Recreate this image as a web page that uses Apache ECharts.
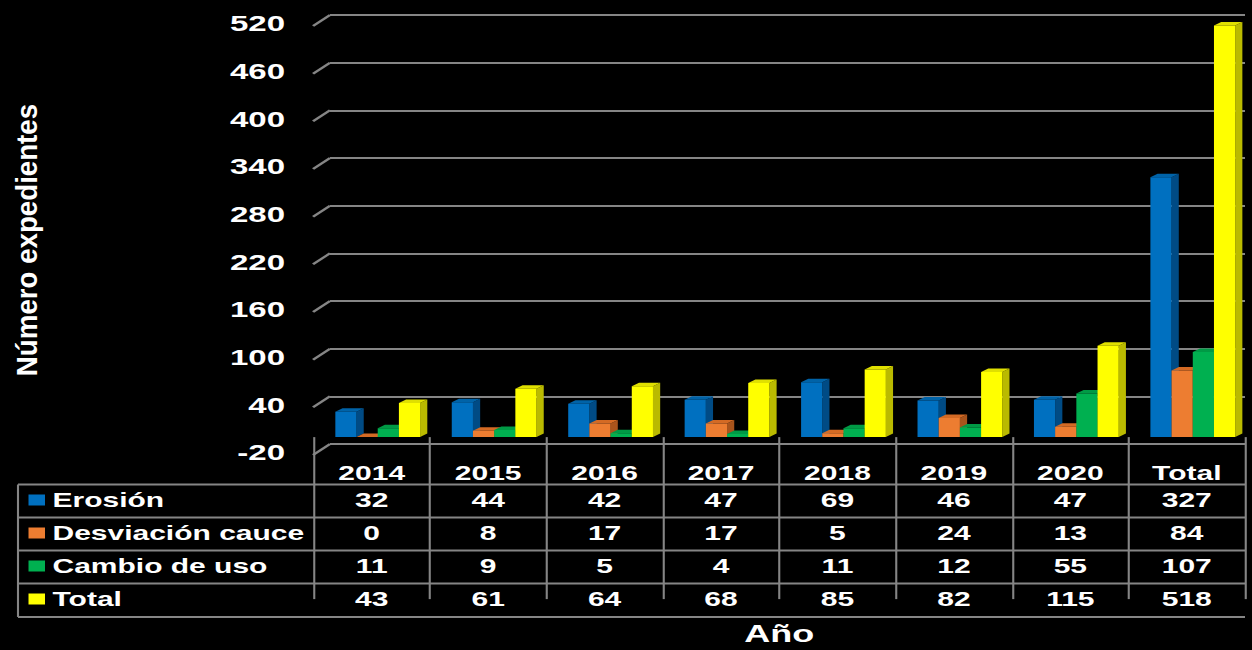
<!DOCTYPE html>
<html>
<head>
<meta charset="utf-8">
<script src="https://cdn.jsdelivr.net/npm/echarts@6/dist/echarts.min.js"></script>
<style>
  body { margin: 0; background: #000; overflow: hidden; }
  /* the reference is stretched sideways, so draw narrow and widen it */
  #chart { width: 835px; height: 650px; transform: scaleX(1.5); transform-origin: 0 0; }
</style>
</head>
<body>
<div id="chart"></div>
<script>
var years = ['2014', '2015', '2016', '2017', '2018', '2019', '2020', 'Total'];
var erosion = [32, 44, 42, 47, 69, 46, 47, 327];
var desviacion = [0, 8, 17, 17, 5, 24, 13, 84];
var cambio = [11, 9, 5, 4, 11, 12, 55, 107];
var total = [43, 61, 64, 68, 85, 82, 115, 518];
var seriesNames = ['Erosión', 'Desviación cauce', 'Cambio de uso', 'Total'];
var yTicks = [-20, 40, 100, 160, 220, 280, 340, 400, 460, 520];

var allValues = [erosion, desviacion, cambio, total];
var frontColors = ['#0070C0', '#ED7D31', '#00B050', '#FFFF00'];
var sideColors = ['#004B85', '#A9541C', '#007A36', '#BABA00'];
var topColors = ['#0063A8', '#D46A24', '#009A45', '#E0E000'];

var font = '"Liberation Sans", Arial, sans-serif';
var gridColor = '#858585';

var chart = echarts.init(document.getElementById('chart'), null, { renderer: 'svg' });

function renderBar(params, api) {
    var s = params.seriesIndex;
    var base = api.coord([api.value(0), 0]);
    var top = api.coord([api.value(0), api.value(1)]);
    var bw = api.size([1, 0])[0] * 0.182;
    var dx = 4.8, dy = 3.5;
    var x0 = base[0] - 2 * bw + s * bw + 4;
    var x1 = x0 + bw;
    return {
        type: 'group',
        children: [
            {
                type: 'polygon',
                shape: { points: [[x1, top[1]], [x1 + dx, top[1] - dy], [x1 + dx, base[1] - dy], [x1, base[1]]] },
                style: { fill: sideColors[s] }
            },
            {
                type: 'polygon',
                shape: { points: [[x0, top[1]], [x0 + dx, top[1] - dy], [x1 + dx, top[1] - dy], [x1, top[1]]] },
                style: { fill: topColors[s] }
            },
            {
                type: 'rect',
                shape: { x: x0, y: top[1], width: bw, height: base[1] - top[1] },
                style: { fill: frontColors[s] }
            }
        ]
    };
}

function renderSlant(params, api) {
    var p = api.coord([0, api.value(0)]);
    return {
        type: 'line',
        shape: { x1: p[0] - 11.3, y1: p[1] + 11, x2: p[0], y2: p[1] },
        style: { stroke: gridColor, lineWidth: 2 }
    };
}

var series = seriesNames.map(function (name, s) {
    return {
        name: name,
        type: 'custom',
        xAxisIndex: 0,
        yAxisIndex: 0,
        itemStyle: { color: frontColors[s] },
        renderItem: renderBar,
        encode: { x: 0, y: 1 },
        data: allValues[s].map(function (v, j) { return [j, v]; })
    };
});

series.push({
    type: 'custom',
    xAxisIndex: 1,
    yAxisIndex: 1,
    silent: true,
    renderItem: renderSlant,
    encode: { y: 0 },
    data: yTicks.map(function (v) { return [v]; })
});

var tableLines = [];
[484.5, 517.5, 550.5, 583.5, 617].forEach(function (y) {
    tableLines.push({
        type: 'line',
        shape: { x1: 12, y1: y, x2: 830, y2: y },
        style: { stroke: gridColor, lineWidth: 2 }
    });
});
tableLines.push({
    type: 'line',
    shape: { x1: 12, y1: 484.5, x2: 12, y2: 617 },
    style: { stroke: gridColor, lineWidth: 1.4 }
});
tableLines.push({
    type: 'text',
    x: 17.5,
    y: 240,
    rotation: Math.PI / 2,
    scaleX: 1.42,
    style: {
        text: 'Número expedientes',
        fill: '#fff',
        font: 'bold 19.5px ' + font,
        align: 'center',
        verticalAlign: 'middle'
    }
});

option = {
    backgroundColor: '#000',
    animation: false,
    legend: {
        orient: 'vertical',
        left: 19,
        top: 490,
        padding: 0,
        itemWidth: 11,
        itemHeight: 11,
        itemGap: 13,
        icon: 'rect',
        selectedMode: false,
        textStyle: { color: '#fff', fontSize: 20, fontWeight: 'bold', fontFamily: font, lineHeight: 20 },
        data: seriesNames
    },
    grid: [
        { left: 209, right: 5, top: 24, bottom: 197, outerBoundsMode: 'none' },
        { left: 220, right: 5, top: 15, bottom: 206, outerBoundsMode: 'none' }
    ],
    xAxis: [
        {
            type: 'category',
            gridIndex: 0,
            data: years,
            offset: 2,
            name: 'Año',
            nameLocation: 'middle',
            nameGap: 166,
            nameTextStyle: { color: '#fff', fontSize: 24, fontWeight: 'bold', fontFamily: font },
            axisLine: { show: false },
            axisTick: { show: true, length: 162, lineStyle: { color: gridColor, width: 1.4 } },
            axisLabel: {
                interval: 0,
                margin: 7.5,
                color: '#fff',
                fontFamily: font,
                fontWeight: 'bold',
                fontSize: 20,
                formatter: function (value, idx) {
                    return '{h|' + value + '}\n{v|' + erosion[idx] + '}\n{v|' + desviacion[idx] +
                        '}\n{v|' + cambio[idx] + '}\n{v|' + total[idx] + '}';
                },
                rich: {
                    h: { color: '#fff', fontFamily: font, fontWeight: 'bold', fontSize: 20, lineHeight: 21 },
                    v: { color: '#fff', fontFamily: font, fontWeight: 'bold', fontSize: 20, lineHeight: 33 }
                }
            },
            splitLine: { show: false }
        },
        { type: 'value', gridIndex: 1, min: 0, max: 1, show: false }
    ],
    yAxis: [
        {
            type: 'value',
            gridIndex: 0,
            min: -20,
            max: 520,
            interval: 60,
            axisLine: { show: false },
            axisTick: { show: false },
            splitLine: { show: false },
            axisLabel: { color: '#fff', fontSize: 22, fontWeight: 'bold', fontFamily: font, margin: 19 }
        },
        {
            type: 'value',
            gridIndex: 1,
            min: -20,
            max: 520,
            interval: 60,
            axisLine: { show: false },
            axisTick: { show: false },
            axisLabel: { show: false },
            splitLine: { show: true, lineStyle: { color: gridColor, width: 2 } }
        }
    ],
    graphic: tableLines,
    series: series
};

chart.setOption(option);
</script>
</body>
</html>
